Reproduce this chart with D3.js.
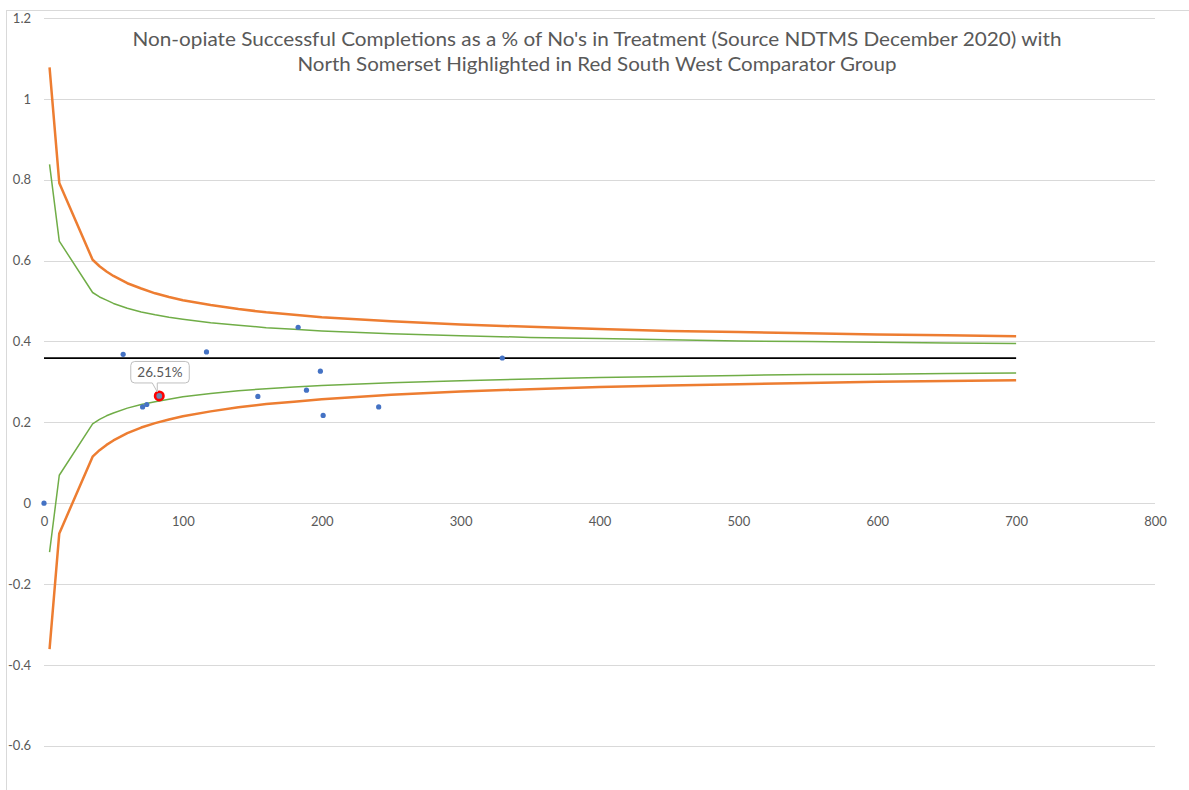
<!DOCTYPE html>
<html><head><meta charset="utf-8">
<script src="https://cdn.jsdelivr.net/npm/d3@7"></script>
<style>
body{margin:0;background:#fff;overflow:hidden}
text{font-family:Lato,"Open Sans","Liberation Sans",sans-serif}
</style>
</head><body>
<svg id="chart" width="1189" height="790"></svg>
<script>
// ---- data ----
const titleLines = [
  "Non-opiate Successful Completions as a % of No's in Treatment (Source NDTMS December 2020) with",
  "North Somerset Highlighted in Red South West Comparator Group"
];
const yTicks = [-0.6, -0.4, -0.2, 0, 0.2, 0.4, 0.6, 0.8, 1, 1.2];
const yTickLabels = ["-0.6", "-0.4", "-0.2", "0", "0.2", "0.4", "0.6", "0.8", "1", "1.2"];
const xTicks = [0, 100, 200, 300, 400, 500, 600, 700, 800];

// funnel limit series (number in treatment vs rate)
const funnelN   = [4, 11, 35, 40, 45, 50, 60, 70, 80, 90, 100, 120, 140, 160, 180, 200, 250, 300, 350, 400, 450, 500, 550, 600, 650, 700];
const upper3SD  = [1.078, 0.792, 0.602, 0.586, 0.573, 0.562, 0.544, 0.531, 0.519, 0.510, 0.502, 0.490, 0.480, 0.472, 0.466, 0.460, 0.450, 0.442, 0.436, 0.431, 0.426, 0.423, 0.420, 0.417, 0.415, 0.413];
const lower3SD  = [-0.361, -0.075, 0.115, 0.131, 0.144, 0.155, 0.173, 0.187, 0.198, 0.207, 0.215, 0.227, 0.237, 0.245, 0.251, 0.257, 0.268, 0.276, 0.282, 0.287, 0.291, 0.294, 0.297, 0.300, 0.302, 0.304];
const upper2SD  = [0.838, 0.648, 0.521, 0.510, 0.502, 0.494, 0.482, 0.473, 0.466, 0.460, 0.455, 0.446, 0.440, 0.434, 0.430, 0.426, 0.419, 0.414, 0.410, 0.407, 0.404, 0.401, 0.400, 0.398, 0.396, 0.395];
const lower2SD  = [-0.121, 0.069, 0.196, 0.207, 0.216, 0.223, 0.235, 0.244, 0.251, 0.257, 0.263, 0.271, 0.278, 0.283, 0.287, 0.291, 0.298, 0.303, 0.307, 0.311, 0.313, 0.316, 0.318, 0.319, 0.3205, 0.322];

// comparator areas
const pointN   = [0, 57, 71, 74, 117, 154, 183, 189, 199, 201, 241, 330];
const pointVal = [0, 0.368, 0.238, 0.244, 0.374, 0.264, 0.435, 0.2795, 0.3265, 0.217, 0.238, 0.359];

// North Somerset
const highlightN = [83];
const highlightVal = [0.2651];

// comparator group mean
const meanN = [0, 700];
const meanVal = [0.3586, 0.3586];

// ---- chart ----
const svg = d3.select("#chart");
const x = d3.scaleLinear().domain([0, 800]).range([44, 1155]);
const y = d3.scaleLinear().domain([-0.6, 1.2]).range([745.7, 18]);

// chart area border
svg.append("rect").attr("x", 6.5).attr("y", 10.5).attr("width", 1300).attr("height", 900)
  .attr("fill", "none").attr("stroke", "#d9d9d9").attr("stroke-width", 1);

// gridlines
svg.append("g").selectAll("line").data(yTicks).join("line")
  .attr("x1", x(0)).attr("x2", x(800))
  .attr("y1", d => Math.round(y(d)) + 0.5).attr("y2", d => Math.round(y(d)) + 0.5)
  .attr("stroke", "#d9d9d9").attr("stroke-width", 1);

// y axis labels
const yAxis = svg.append("g").attr("transform", `translate(${x(0)},0)`)
  .call(d3.axisLeft(y).tickValues(yTicks).tickSize(0).tickPadding(13)
    .tickFormat((d, i) => yTickLabels[i]));
yAxis.select(".domain").remove();
yAxis.selectAll("text").attr("fill", "#595959").style("font-size", "13px").style("font-family", "Lato, sans-serif");

// x axis labels
const xAxis = svg.append("g").attr("transform", `translate(0,${y(0)})`)
  .call(d3.axisBottom(x).tickValues(xTicks).tickSize(0).tickPadding(14).tickFormat(d => String(d)));
xAxis.select(".domain").remove();
xAxis.selectAll("text").attr("fill", "#595959").style("font-size", "13px").style("font-family", "Lato, sans-serif");

// title
const title = svg.append("g");
const titleY = [46, 71];
const titleW = [929, 599];
titleLines.forEach((t, i) => {
  title.append("text").attr("x", 597).attr("y", titleY[i]).attr("text-anchor", "middle")
    .attr("fill", "#595959").style("font-size", "18.7px")
    .attr("textLength", titleW[i]).attr("lengthAdjust", "spacingAndGlyphs")
    .text(t);
});

const line = d3.line().x(d => x(d[0])).y(d => y(d[1]));

// mean line
svg.append("path").datum(d3.zip(meanN, meanVal)).attr("d", line)
  .attr("fill", "none").attr("stroke", "#000").attr("stroke-width", 1.6);

// funnel lines
const funnels = [
  {v: upper3SD, c: "#ED7D31", w: 2.5},
  {v: lower3SD, c: "#ED7D31", w: 2.5},
  {v: upper2SD, c: "#70AD47", w: 1.5},
  {v: lower2SD, c: "#70AD47", w: 1.5}
];
funnels.forEach(f => {
  svg.append("path").datum(d3.zip(funnelN, f.v)).attr("d", line)
    .attr("fill", "none").attr("stroke", f.c).attr("stroke-width", f.w)
    .attr("stroke-linejoin", "round");
});

// points
svg.append("g").selectAll("circle").data(d3.zip(pointN, pointVal)).join("circle")
  .attr("cx", d => x(d[0])).attr("cy", d => y(d[1])).attr("r", 2.6)
  .attr("fill", "#4472C4");

// highlight point
const hl = d3.zip(highlightN, highlightVal);
svg.append("g").selectAll("circle").data(hl).join("circle")
  .attr("cx", d => x(d[0])).attr("cy", d => y(d[1])).attr("r", 4.2)
  .attr("fill", "#6f86b0").attr("stroke", "#ff0000").attr("stroke-width", 2.6);

// data label callout
hl.forEach(d => {
  const px = x(d[0]), py = y(d[1]);
  const l = px - 28.5, r = px + 30, t = py - 34.5, b = py - 13, rr = 4;
  const p = d3.path();
  p.moveTo(l + rr, t);
  p.lineTo(r - rr, t); p.quadraticCurveTo(r, t, r, t + rr);
  p.lineTo(r, b - rr); p.quadraticCurveTo(r, b, r - rr, b);
  p.lineTo(px - 2, b); p.lineTo(px - 2, py - 4); p.lineTo(px - 7, b);
  p.lineTo(l + rr, b); p.quadraticCurveTo(l, b, l, b - rr);
  p.lineTo(l, t + rr); p.quadraticCurveTo(l, t, l + rr, t);
  p.closePath();
  svg.append("path").attr("d", p.toString()).attr("fill", "#fff")
    .attr("stroke", "#bfbfbf").attr("stroke-width", 1);
  svg.append("text").attr("x", (l + r) / 2).attr("y", (t + b) / 2 + 4.8)
    .attr("text-anchor", "middle").attr("fill", "#595959").style("font-size", "13.5px")
    .text(d3.format(".2%")(d[1]));
});
</script>
</body></html>
